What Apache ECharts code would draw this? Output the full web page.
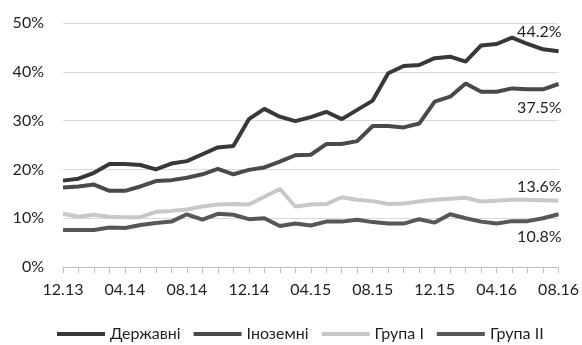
<!DOCTYPE html>
<html lang="uk" style="height: 100%">
<head>
    <meta charset="utf-8">
</head>
<body style="height: 100%; margin: 0; background: #fff">
<div id="container" style="width: 582px; height: 345px"></div>
<script type="text/javascript" src="https://fastly.jsdelivr.net/npm/echarts@6/dist/echarts.min.js"></script>
<script type="text/javascript">

    const months = [
        '12.13', '01.14', '02.14', '03.14', '04.14', '05.14', '06.14', '07.14', '08.14',
        '09.14', '10.14', '11.14', '12.14', '01.15', '02.15', '03.15', '04.15',
        '05.15', '06.15', '07.15', '08.15', '09.15', '10.15', '11.15', '12.15',
        '01.16', '02.16', '03.16', '04.16', '05.16', '06.16', '07.16', '08.16'
    ];

    const yTicks = [0, 10, 20, 30, 40, 50];

    const derzhavni = [17.7, 18.1, 19.3, 21.1, 21.1, 20.9, 20.0, 21.2, 21.7, 23.1, 24.5,
        24.8, 30.3, 32.4, 30.8, 29.9, 30.7, 31.8, 30.3, 32.2, 34.1, 39.7, 41.2, 41.4,
        42.8, 43.1, 42.1, 45.4, 45.7, 47.0, 45.7, 44.6, 44.2];

    const inozemni = [16.3, 16.5, 16.9, 15.6, 15.6, 16.5, 17.6, 17.8, 18.3, 19.0, 20.1,
        19.0, 19.9, 20.4, 21.6, 22.9, 23.0, 25.2, 25.2, 25.8, 28.9, 28.9, 28.6, 29.4,
        33.9, 34.9, 37.6, 35.9, 35.9, 36.6, 36.4, 36.4, 37.5];

    const grupa1 = [10.9, 10.3, 10.7, 10.3, 10.2, 10.2, 11.3, 11.5, 11.8, 12.4, 12.8,
        12.9, 12.8, 14.4, 16.0, 12.4, 12.8, 12.9, 14.3, 13.8, 13.5, 12.9, 13.0, 13.4,
        13.8, 14.0, 14.2, 13.4, 13.6, 13.8, 13.8, 13.7, 13.6];

    const grupa2 = [7.6, 7.6, 7.6, 8.1, 8.0, 8.6, 9.0, 9.3, 10.8, 9.7, 10.9,
        10.7, 9.8, 10.0, 8.4, 8.9, 8.5, 9.3, 9.3, 9.7, 9.2, 8.9, 8.9, 9.8,
        9.1, 10.8, 10.0, 9.3, 8.9, 9.4, 9.4, 10.0, 10.8];

    const font = 'Lato, "Open Sans", sans-serif';

    var dom = document.getElementById('container');
    var myChart = echarts.init(dom, null, {renderer: 'canvas'});

    // only the last point carries a value label
    function withEndLabel(values, position, distance) {
        return values.map((v, i) => {
            if (i !== values.length - 1) {
                return v;
            }
            return {
                value: v,
                label: {
                    show: true,
                    position: position,
                    distance: distance,
                    align: 'right',
                    offset: [3, 0],
                    formatter: v.toFixed(1) + '%',
                    color: '#1e1e1e',
                    fontSize: 16,
                    fontFamily: font
                }
            };
        });
    }

    function makeSeries(name, color, values, position, distance) {
        return {
            name: name,
            type: 'line',
            data: withEndLabel(values, position, distance),
            color: color,
            showSymbol: true,
            symbol: 'circle',
            symbolSize: 0,
            lineStyle: {width: 4, color: color},
            itemStyle: {color: color},
            emphasis: {disabled: true},
            animation: false
        };
    }

    const option = {
        animation: false,
        grid: {
            left: 63,
            right: 23,
            top: 23,
            bottom: 78
        },
        legend: {
            top: 321,
            left: 52,
            icon: 'rect',
            itemWidth: 48,
            itemHeight: 4,
            itemGap: 13,
            textStyle: {
                color: '#1e1e1e',
                fontSize: 16,
                fontFamily: font
            },
            data: ['Державні', 'Іноземні', 'Група I', 'Група II']
        },
        xAxis: {
            type: 'category',
            data: months,
            boundaryGap: false,
            axisLine: {lineStyle: {color: '#bdbdbd', width: 1}},
            axisTick: {
                show: true,
                interval: 0,
                length: 6,
                lineStyle: {color: '#bdbdbd'}
            },
            axisLabel: {
                interval: 3,
                margin: 15,
                color: '#1e1e1e',
                fontSize: 16,
                fontFamily: font
            },
            splitLine: {show: false}
        },
        yAxis: {
            type: 'value',
            min: yTicks[0],
            max: yTicks[yTicks.length - 1],
            interval: 10,
            axisLine: {show: false},
            axisTick: {show: false},
            axisLabel: {
                margin: 19,
                formatter: '{value}%',
                color: '#1e1e1e',
                fontSize: 16,
                fontFamily: font
            },
            splitLine: {lineStyle: {color: '#d9d9d9', width: 1}}
        },
        series: [
            makeSeries('Група I', '#c8c8c8', grupa1, 'top', 6),
            makeSeries('Група II', '#575757', grupa2, 'bottom', 15),
            makeSeries('Іноземні', '#4a4a4a', inozemni, 'bottom', 16),
            makeSeries('Державні', '#383838', derzhavni, 'top', 11)
        ]
    };

    myChart.setOption(option);

    window.addEventListener('resize', myChart.resize);

</script>
</body>
</html>
